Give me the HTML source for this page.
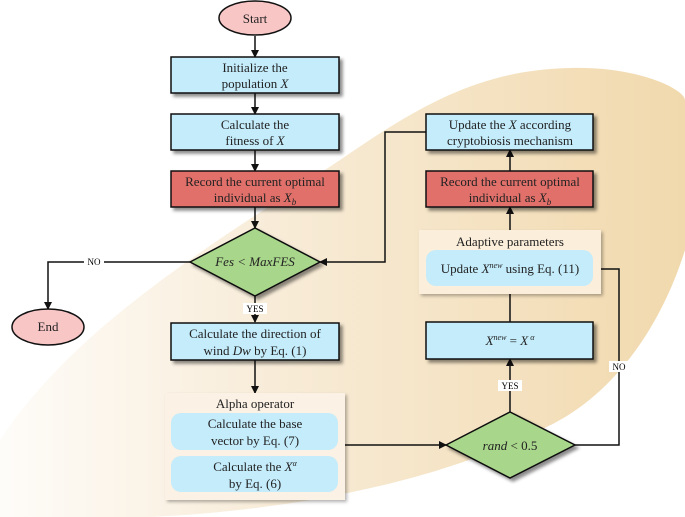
<!DOCTYPE html>
<html><head><style>
body{margin:0;background:#fff;}
svg{display:block;font-family:"Liberation Serif",serif;}
</style></head><body>
<svg width="685" height="517" viewBox="0 0 685 517" xmlns="http://www.w3.org/2000/svg">
<defs>
<linearGradient id="bg" x1="0" y1="0" x2="1" y2="0">
<stop offset="0" stop-color="#fefcf9"/>
<stop offset="0.4" stop-color="#f8ecd8"/>
<stop offset="1" stop-color="#f1d9ad"/>
</linearGradient>
<marker id="ar" markerWidth="8" markerHeight="8" refX="7" refY="4" orient="auto" markerUnits="userSpaceOnUse">
<path d="M0,0 L8,4 L0,8 z" fill="#111"/></marker>
<filter id="sh" x="-10%" y="-10%" width="130%" height="140%"><feDropShadow dx="3" dy="3" stdDeviation="1.5" flood-color="#000" flood-opacity="0.45"/></filter>
<filter id="sh2" x="-10%" y="-10%" width="130%" height="140%"><feDropShadow dx="2" dy="2" stdDeviation="1.5" flood-color="#000" flood-opacity="0.3"/></filter>
</defs>
<path d="M0,517 L0,440 C80,320 220,240 340,160 C420,105 480,70 570,68 C640,66 685,90 685,100 L685,250 C660,330 610,400 540,430 C440,480 300,510 150,517 Z" fill="url(#bg)"/>
<g stroke="#111" stroke-width="1.5" fill="none">
<line x1="255" y1="36" x2="255" y2="57" marker-end="url(#ar)"/>
<line x1="255" y1="93" x2="255" y2="114" marker-end="url(#ar)"/>
<line x1="255" y1="150" x2="255" y2="171" marker-end="url(#ar)"/>
<line x1="255" y1="207" x2="255" y2="228" marker-end="url(#ar)"/>
<polyline points="190,262 48,262 48,309" marker-end="url(#ar)"/>
<line x1="255" y1="296" x2="255" y2="322" marker-end="url(#ar)"/>
<line x1="255" y1="360" x2="255" y2="393" marker-end="url(#ar)"/>
<line x1="345" y1="445" x2="446" y2="445" marker-end="url(#ar)"/>
<line x1="510" y1="412" x2="510" y2="359" marker-end="url(#ar)"/>
<line x1="510" y1="322" x2="510" y2="294"/>
<polyline points="575,445 619,445 619,269 593,269"/>
<line x1="510" y1="230" x2="510" y2="207" marker-end="url(#ar)"/>
<line x1="510" y1="171" x2="510" y2="150" marker-end="url(#ar)"/>
<polyline points="426,132 385,132 385,262 320,262" marker-end="url(#ar)"/>
</g>
<g font-size="9" text-anchor="middle">
<rect x="84" y="256" width="20" height="11" fill="#fff"/><text x="94" y="265">NO</text>
<rect x="243" y="303" width="24" height="11" fill="#fff"/><text x="255" y="312">YES</text>
<rect x="498" y="380" width="24" height="11" fill="#fff"/><text x="510" y="389">YES</text>
<rect x="609" y="361" width="20" height="11" fill="#fff"/><text x="619" y="370">NO</text>
</g>
<g stroke="#111" stroke-width="1.5">
<ellipse cx="255" cy="18" rx="36" ry="17" fill="#f9c6c6"/>
<ellipse cx="48" cy="327" rx="36" ry="18" fill="#f9c6c6"/>
<rect x="171" y="57" width="168" height="36" fill="#c4ecfb" filter="url(#sh)"/>
<rect x="171" y="114" width="168" height="36" fill="#c4ecfb" filter="url(#sh)"/>
<rect x="171" y="171" width="168" height="36" fill="#e2706b" filter="url(#sh)"/>
<polygon points="190,262 255,228 320,262 255,296" fill="#a8d68a" filter="url(#sh)"/>
<rect x="171" y="323" width="168" height="37" fill="#c4ecfb" filter="url(#sh)"/>
<polygon points="446,445 510,412 575,445 510,478" fill="#a8d68a" filter="url(#sh)"/>
<rect x="426" y="322" width="167" height="37" fill="#c4ecfb" filter="url(#sh)"/>
<rect x="426" y="171" width="167" height="36" fill="#e2706b" filter="url(#sh)"/>
<rect x="426" y="114" width="167" height="36" fill="#c4ecfb" filter="url(#sh)"/>
</g>
<rect x="165" y="393" width="180" height="107" fill="#fbf1e4" filter="url(#sh2)"/>
<rect x="171" y="413" width="167" height="37" rx="10" fill="#c4ecfb"/>
<rect x="171" y="456" width="167" height="36" rx="10" fill="#c4ecfb"/>
<rect x="419" y="230" width="182" height="64" fill="#fbeedb" filter="url(#sh2)"/>
<rect x="426" y="250" width="167" height="36" rx="10" fill="#c4ecfb"/>
<g font-size="13" text-anchor="middle" fill="#222">
<text x="255" y="23">Start</text>
<text x="48" y="331">End</text>
<text x="255" y="72">Initialize the</text>
<text x="255" y="88">population <tspan font-style="italic">X</tspan></text>
<text x="255" y="129">Calculate the</text>
<text x="255" y="145">fitness of <tspan font-style="italic">X</tspan></text>
<text x="255" y="186">Record the current optimal</text>
<text x="255" y="202">individual as <tspan font-style="italic">X</tspan><tspan font-style="italic" font-size="9" dy="3">b</tspan></text>
<text x="255" y="266" font-style="italic">Fes &lt; MaxFES</text>
<text x="255" y="338">Calculate the direction of</text>
<text x="255" y="355">wind <tspan font-style="italic">Dw</tspan> by Eq. (1)</text>
<text x="255" y="408">Alpha operator</text>
<text x="255" y="428">Calculate the base</text>
<text x="255" y="445">vector by Eq. (7)</text>
<text x="255" y="471">Calculate the <tspan font-style="italic">X</tspan><tspan font-style="italic" font-size="8" dy="-5">α</tspan></text>
<text x="255" y="488">by Eq. (6)</text>
<text x="510" y="450"><tspan font-style="italic">rand</tspan> &lt; 0.5</text>
<text x="510" y="345"><tspan font-style="italic">X</tspan><tspan font-style="italic" font-size="8" dy="-5">new</tspan><tspan dy="5"> = </tspan><tspan font-style="italic">X</tspan><tspan font-style="italic" font-size="8" dy="-5"> α</tspan></text>
<text x="510" y="246">Adaptive parameters</text>
<text x="510" y="273">Update <tspan font-style="italic">X</tspan><tspan font-style="italic" font-size="8" dy="-5">new</tspan><tspan dy="5"> using Eq. (11)</tspan></text>
<text x="510" y="186">Record the current optimal</text>
<text x="510" y="202">individual as <tspan font-style="italic">X</tspan><tspan font-style="italic" font-size="9" dy="3">b</tspan></text>
<text x="510" y="129">Update the <tspan font-style="italic">X</tspan> according</text>
<text x="510" y="145">cryptobiosis mechanism</text>
</g>
</svg>
</body></html>
